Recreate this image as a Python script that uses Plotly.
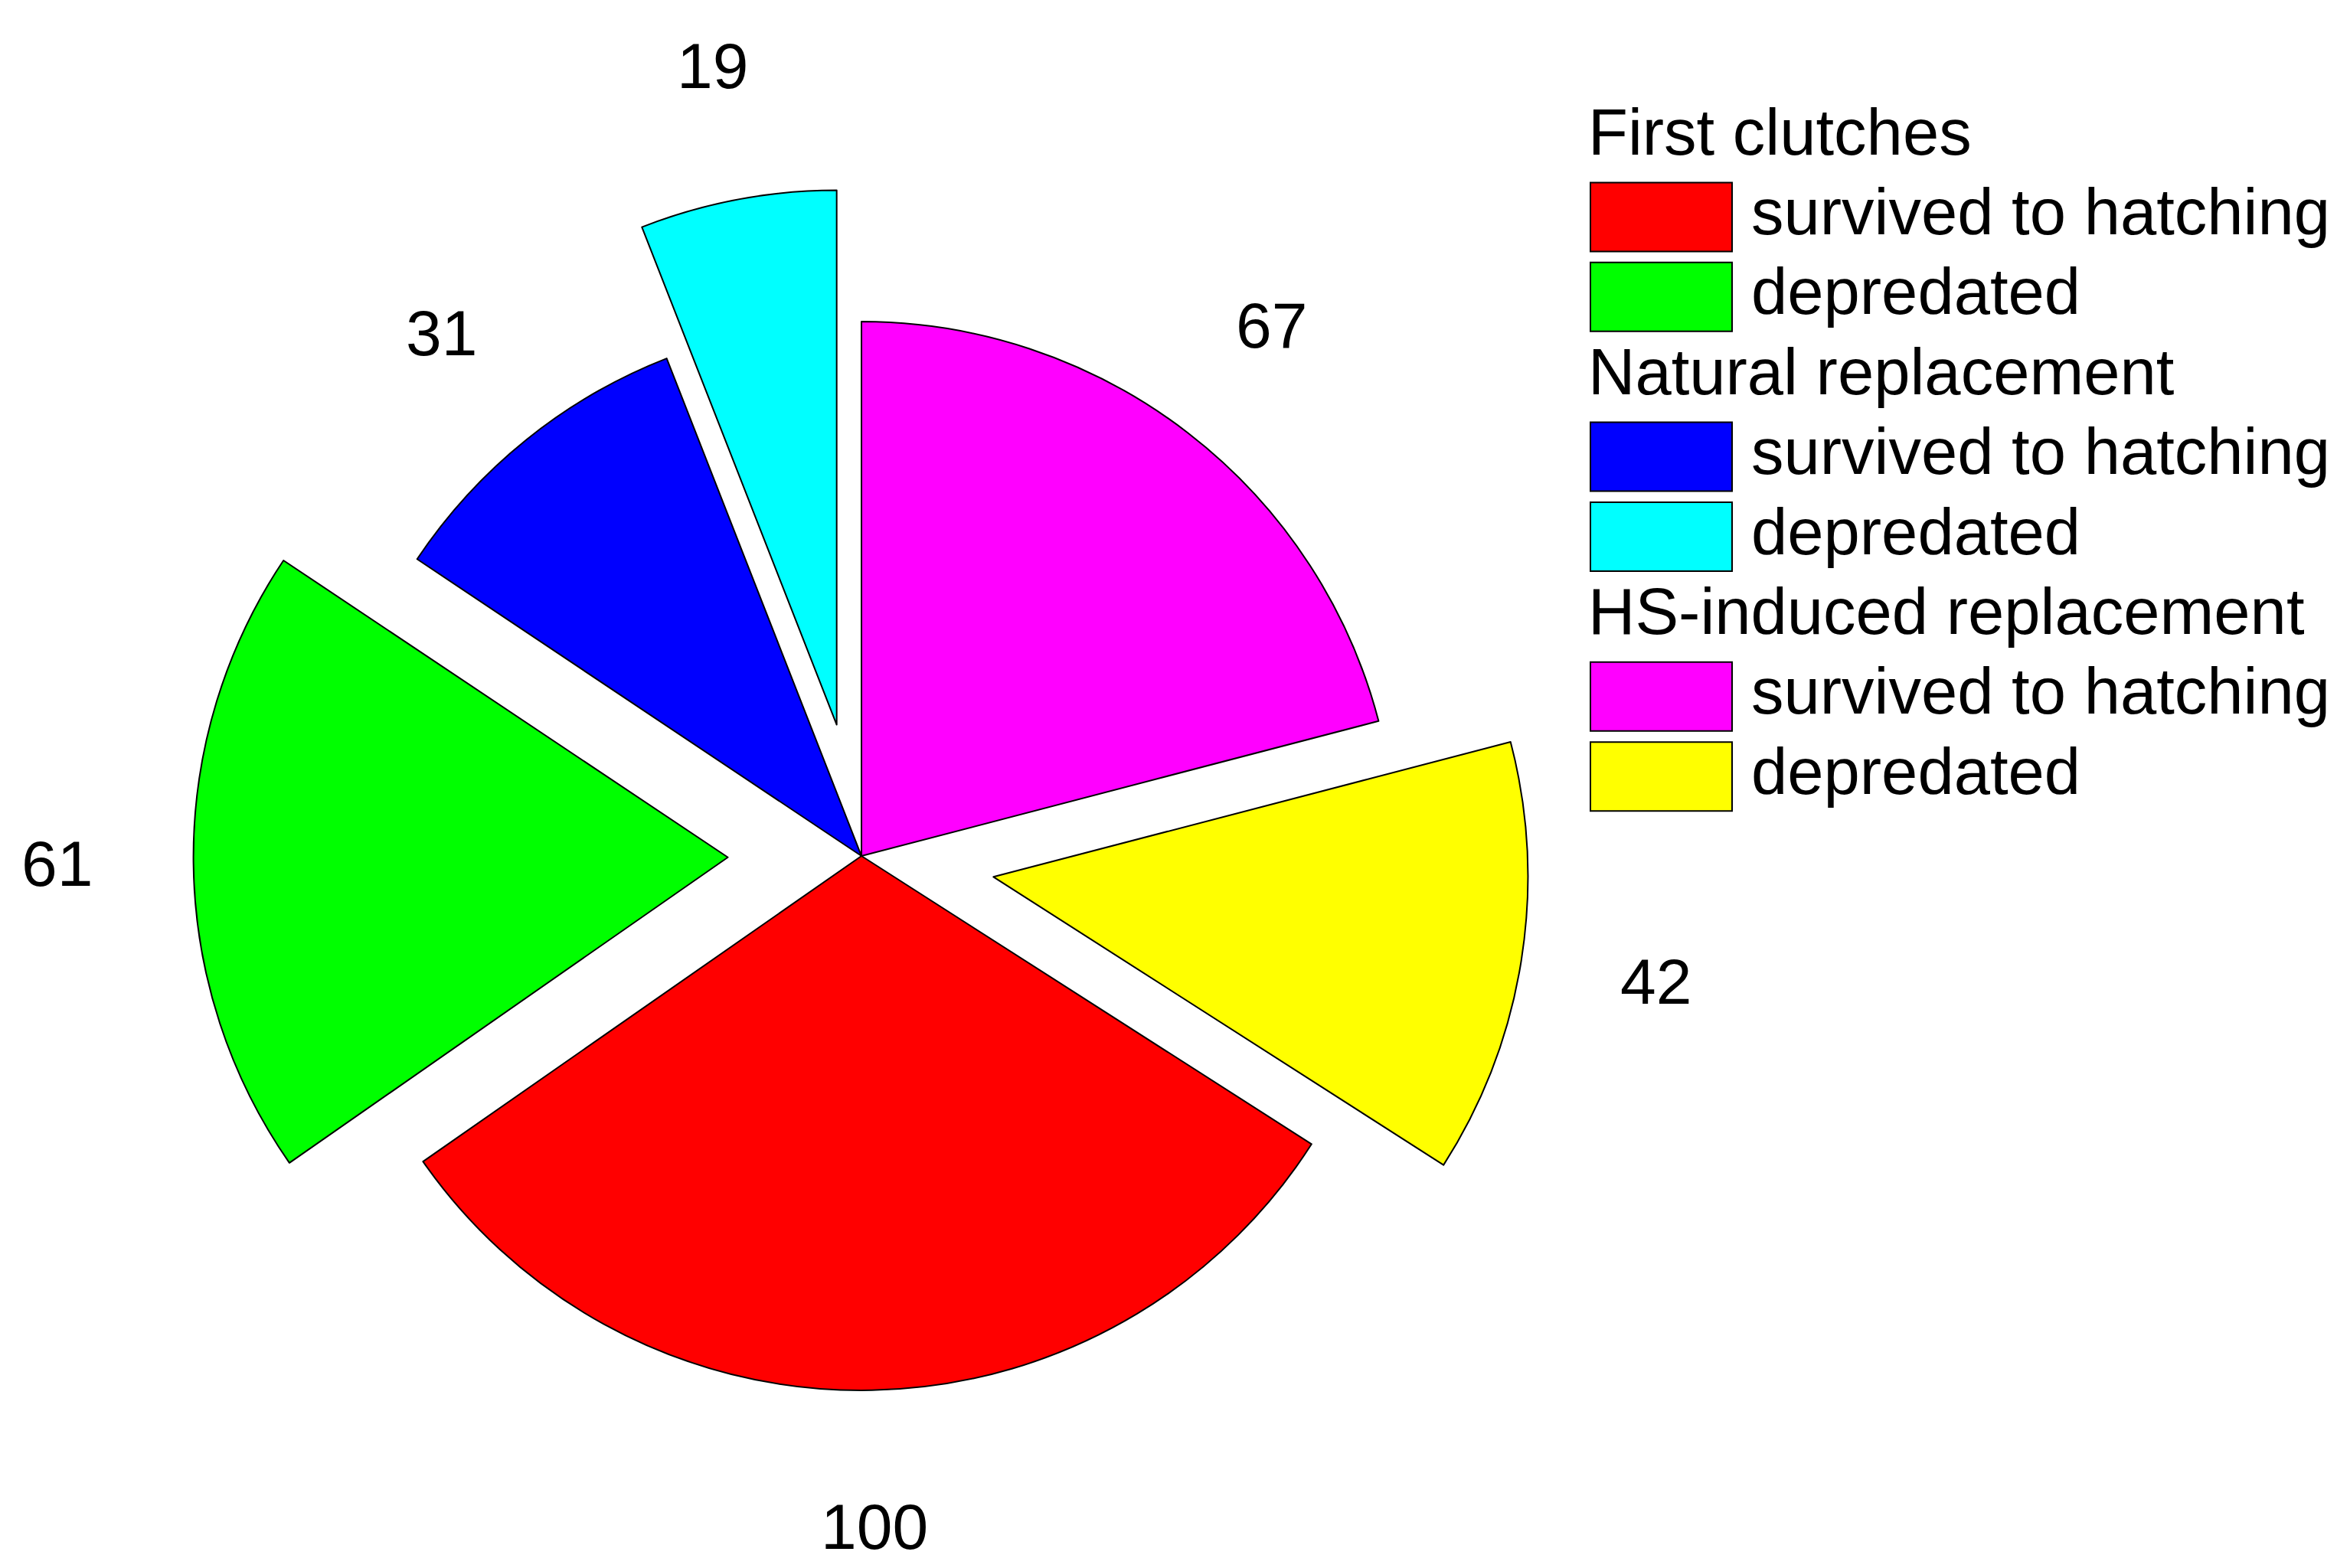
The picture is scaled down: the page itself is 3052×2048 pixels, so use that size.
import math
import plotly.graph_objects as go

# nest fate counts
groups = ["First clutches", "Natural replacement", "HS-induced replacement"]
fates = ["survived to hatching", "depredated"]
values = [100, 61, 31, 19, 67, 42]
colors = ["#FF0000", "#00FF00", "#0000FF", "#00FFFF", "#FF00FF", "#FFFF00"]
pulls = [0, 0.25, 0, 0.25, 0, 0.25]

W, H = 3052, 2048
FONT = "Liberation Sans, Arial, sans-serif"

# pie box (paper coords)
dom_x = [0.0801, 0.6519]
dom_y = [0.0320, 0.8840]
total = sum(values)
rotation = 360 * (values[4] + values[5]) / total

fig = go.Figure()
fig.add_trace(go.Pie(
    values=values,
    labels=[f"{g} - {f}" for g in groups for f in fates],
    marker=dict(colors=colors, line=dict(color="black", width=2)),
    pull=pulls,
    sort=False,
    direction="clockwise",
    rotation=rotation,
    textinfo="none",
    showlegend=False,
    hoverinfo="label+value",
    domain=dict(x=dom_x, y=dom_y),
))

# value labels outside the slices
cx = (dom_x[0] + dom_x[1]) / 2 * W
cy = (1 - (dom_y[0] + dom_y[1]) / 2) * H
r = min((dom_x[1] - dom_x[0]) * W, (dom_y[1] - dom_y[0]) * H) / (2 + 2 * max(pulls))
ang = rotation
annotations = []
for v, p in zip(values, pulls):
    mid = math.radians(ang + 360 * v / total / 2)
    ang += 360 * v / total
    d = r * (1.255 + p)
    x = cx + d * math.sin(mid)
    y = cy - d * math.cos(mid)
    annotations.append(dict(x=x / W, y=1 - y / H, xref="paper", yref="paper",
                            text=str(v), showarrow=False,
                            xanchor="center", yanchor="middle",
                            font=dict(size=84, color="black", family=FONT)))

# legend drawn by hand: group title + two coloured boxes per group
shapes = []
row0, step = 171, 104.4
box_x0, box_x1, txt_x = 2069 / W, 2254 / W, 2277 / W
title_x = 2064 / W
dy_txt = 7
row = 0
for gi, g in enumerate(groups):
    yc = row0 + step * row - dy_txt
    annotations.append(dict(x=title_x, y=1 - yc / H, xref="paper", yref="paper",
                            text=g, showarrow=False, xanchor="left", yanchor="middle",
                            font=dict(size=85, color="black", family=FONT)))
    row += 1
    for fi, f in enumerate(fates):
        yc = row0 + step * row
        shapes.append(dict(type="rect", xref="paper", yref="paper",
                           x0=box_x0, x1=box_x1,
                           y0=1 - (yc + 45) / H, y1=1 - (yc - 45) / H,
                           fillcolor=colors[gi * 2 + fi], line=dict(color="black", width=2)))
        annotations.append(dict(x=txt_x, y=1 - (yc - dy_txt) / H, xref="paper", yref="paper",
                                text=f, showarrow=False, xanchor="left", yanchor="middle",
                                font=dict(size=85, color="black", family=FONT)))
        row += 1

fig.update_layout(
    width=W, height=H,
    margin=dict(l=0, r=0, t=0, b=0),
    paper_bgcolor="white",
    plot_bgcolor="white",
    annotations=annotations,
    shapes=shapes,
    font=dict(family=FONT),
)

fig.write_html("out.html")
